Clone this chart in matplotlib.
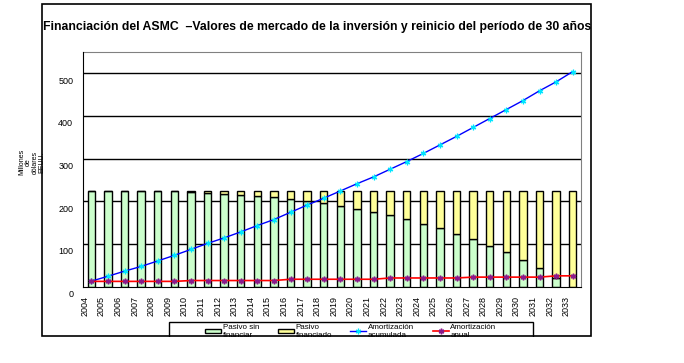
import matplotlib.pyplot as plt
from matplotlib.patches import Patch, Rectangle
from matplotlib.lines import Line2D
from matplotlib.transforms import ScaledTranslation

# datos (millones de dólares EEUU.)
years = list(range(2004, 2034))
total = 225
sin_financiar = [225, 225, 225, 225, 225, 223, 222, 220, 218, 215,
                 213, 210, 205, 201, 195, 188, 181, 174, 167, 158,
                 147, 137, 123, 111, 95, 81, 63, 43, 20, 0]
financiado = [total - v for v in sin_financiar]
amort_acum = [12.5, 24, 36, 47, 60, 73, 87, 101, 114, 128,
              143, 157, 174, 191, 207, 224, 241, 257, 275, 293,
              312, 332, 352, 373, 394, 415, 436, 459, 480, 504]
amort_anual = [12, 12, 12, 12, 12, 12, 14, 14, 14, 14,
               14, 14, 17, 17, 17, 17, 17, 17, 20, 20,
               20, 20, 20, 22, 22, 22, 22, 22, 25, 25]
yticks = [0, 100, 200, 300, 400, 500]

W, H = 684, 363
plt.rcParams["font.family"] = ["Liberation Sans", "DejaVu Sans"]
fig = plt.figure(figsize=(6.84, 3.63), dpi=100)

# área del gráfico
ax = fig.add_axes([83 / W, (H - 286.5) / H, (581 - 83) / W, (286.5 - 52) / H])
x = list(range(len(years)))

# líneas de división detrás de las barras
for v in yticks[1:]:
    ax.axhline(v, color='black', linewidth=1, zorder=1)

ax.bar(x, sin_financiar, width=0.45, color='#CCFFCC', edgecolor='black', linewidth=1, zorder=3)
ax.bar(x, financiado, width=0.45, bottom=sin_financiar, color='#FFFF99', edgecolor='black', linewidth=1, zorder=3)

ast = (6, 2, 0)
ax.plot(x, amort_acum, color='#0000FF', linewidth=1, marker=ast, markersize=4,
        markeredgecolor='#00E5FF', markeredgewidth=0.9, zorder=4)
ax.plot(x, amort_anual, color='#FF0000', linewidth=1.2, marker=ast, markersize=4,
        markeredgecolor='#8B1A8B', markeredgewidth=1.1, zorder=4)

ax.set_xlim(-0.5, len(years) - 0.5)
ax.set_ylim(0, 550)
ax.set_yticks(yticks)
ax.set_yticklabels([str(v) for v in yticks], fontsize=6.5)
ax.set_xticks(x)
ax.set_xticklabels([str(y) for y in years], rotation=90, fontsize=6.5)
ax.tick_params(length=0, pad=7)
for s in ['top', 'right']:
    ax.spines[s].set_color('#808080')
for s in ['left', 'bottom']:
    ax.spines[s].set_color('black')
    ax.spines[s].set_zorder(5)

# desplazar etiquetas como en el original
dy = ScaledTranslation(0, -0.07, fig.dpi_scale_trans)
for lab in ax.get_yticklabels():
    lab.set_transform(lab.get_transform() + dy)
dx = ScaledTranslation(-0.065, 0, fig.dpi_scale_trans)
for lab in ax.get_xticklabels():
    lab.set_transform(lab.get_transform() + dx)

# título y etiqueta del eje
fig.text(317 / W, 1 - 27 / H,
         'Financiación del ASMC  –Valores de mercado de la inversión y reinicio del período de 30 años',
         ha='center', va='center', fontsize=8.8, fontweight='bold')
fig.text(32 / W, 1 - 162 / H, 'Millones\nde\ndólares\nEEUU.', rotation=90,
         ha='center', va='center', fontsize=5, linespacing=0.9)

# leyenda
handles = [
    Patch(facecolor='#CCFFCC', edgecolor='black', linewidth=1),
    Patch(facecolor='#FFFF99', edgecolor='black', linewidth=1),
    Line2D([], [], color='#0000FF', linewidth=1, marker=ast, markersize=4,
           markeredgecolor='#00E5FF', markeredgewidth=0.9),
    Line2D([], [], color='#FF0000', linewidth=1.2, marker=ast, markersize=4,
           markeredgecolor='#8B1A8B', markeredgewidth=1.1),
]
labels = ['Pasivo sin\nfinanciar', 'Pasivo\nfinanciado', 'Amortización\nacumulada', 'Amortización\nanual']
fig.legend(handles, labels, loc='upper left', bbox_to_anchor=(205 / W, 1 - 324 / H),
           ncol=4, frameon=False, fontsize=5.8, handlelength=2.0, handleheight=0.5,
           handletextpad=0.2, columnspacing=2.3, borderaxespad=0, borderpad=0,
           labelspacing=0.1)
fig.patches.append(Rectangle((169 / W, 1 - 345 / H), (533 - 169) / W, 23 / H,
                             transform=fig.transFigure, fill=False, edgecolor='black',
                             linewidth=1, zorder=6))

# recorte inferior y borde exterior
fig.patches.append(Rectangle((0, 0), 1, 1 - 337 / H, transform=fig.transFigure,
                             facecolor='white', edgecolor='none', zorder=10))
fig.patches.append(Rectangle((42 / W, 1 - 336 / H), (591 - 42) / W, (336 - 4) / H,
                             transform=fig.transFigure, fill=False, edgecolor='black',
                             linewidth=1.2, zorder=11))

fig.savefig('out.png', dpi=100)
